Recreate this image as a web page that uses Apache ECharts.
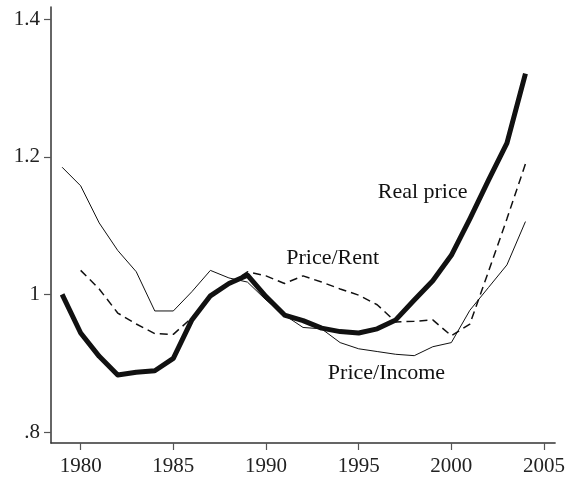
<!DOCTYPE html>
<html>
<head>
<meta charset="utf-8">
<title>House prices</title>
<script src="https://cdn.jsdelivr.net/npm/echarts@6/dist/echarts.min.js"></script>
<style>
  html, body { margin: 0; padding: 0; background: #fff; }
  #chart { width: 568px; height: 479px; }
</style>
</head>
<body>
<div id="chart"></div>
<script>
var years = [1979, 1980, 1981, 1982, 1983, 1984, 1985, 1986, 1987, 1988, 1989, 1990, 1991,
             1992, 1993, 1994, 1995, 1996, 1997, 1998, 1999, 2000, 2001, 2002, 2003, 2004];
var realPrice = [1.000, 0.944, 0.910, 0.883, 0.887, 0.889, 0.907, 0.963, 0.998, 1.016, 1.028, 0.997, 0.970,
                 0.962, 0.951, 0.946, 0.944, 0.950, 0.963, 0.992, 1.020, 1.057, 1.110, 1.166, 1.220, 1.321];
var priceRent = [null, 1.035, 1.008, 0.973, 0.957, 0.943, 0.942, 0.966, 0.997, 1.015, 1.033, 1.027, 1.016,
                 1.027, 1.018, 1.008, 0.999, 0.985, 0.960, 0.961, 0.963, 0.940, 0.957, 1.033, 1.110, 1.190];
var priceIncome = [1.185, 1.158, 1.104, 1.064, 1.033, 0.976, 0.976, 1.004, 1.035, 1.024, 1.018, 0.992, 0.970,
                   0.952, 0.950, 0.930, 0.921, 0.917, 0.913, 0.911, 0.924, 0.930, 0.977, 1.010, 1.043, 1.106];
var xTicks = [1980, 1985, 1990, 1995, 2000, 2005];
var yTicks = [0.8, 1, 1.2, 1.4];

var font = 'Liberation Serif';

function pairs(vals) {
  var out = [];
  for (var i = 0; i < years.length; i++) {
    if (vals[i] != null) out.push([years[i], vals[i]]);
  }
  return out;
}

var myChart = echarts.init(document.getElementById('chart'));
var option = {
  backgroundColor: '#fff',
  animation: false,
  grid: { left: 51, right: 10, top: 7, bottom: 36 },
  xAxis: {
    type: 'value',
    min: 1978.4,
    max: 2005.6,
    splitLine: { show: false },
    axisLine: { lineStyle: { color: '#333', width: 1.5 } },
    axisTick: { customValues: xTicks, length: 7, lineStyle: { color: '#555', width: 1.2 } },
    axisLabel: {
      customValues: xTicks,
      margin: 13,
      color: '#222',
      fontFamily: font,
      fontSize: 21,
      formatter: function (v) { return String(v); }
    }
  },
  yAxis: {
    type: 'value',
    min: 0.784,
    max: 1.418,
    splitLine: { show: false },
    axisLine: { show: true, lineStyle: { color: '#333', width: 1.5 } },
    axisTick: { show: true, customValues: yTicks, length: 7, lineStyle: { color: '#555', width: 1.2 } },
    axisLabel: {
      customValues: yTicks,
      margin: 11,
      color: '#222',
      fontFamily: font,
      fontSize: 21,
      formatter: function (v) {
        if (Math.abs(v - 0.8) < 1e-6) return '.8';
        if (Math.abs(v - 1) < 1e-6) return '1';
        return v.toFixed(1);
      }
    }
  },
  series: [
    {
      name: 'Price/Income',
      type: 'line',
      data: pairs(priceIncome),
      symbol: 'none',
      lineStyle: { color: '#111', width: 1 }
    },
    {
      name: 'Price/Rent',
      type: 'line',
      data: pairs(priceRent),
      symbol: 'none',
      lineStyle: { color: '#111', width: 1.5, type: [8, 5] }
    },
    {
      name: 'Real price',
      type: 'line',
      data: pairs(realPrice),
      symbol: 'none',
      lineStyle: { color: '#111', width: 5, join: 'round' }
    }
  ]
};
myChart.setOption(option);

// series names placed next to their lines
var labels = [
  { text: 'Real price', at: [1998.45, 1.148] },
  { text: 'Price/Rent', at: [1993.6, 1.053] },
  { text: 'Price/Income', at: [1996.5, 0.886] }
];
myChart.setOption({
  graphic: labels.map(function (l) {
    var p = myChart.convertToPixel({ gridIndex: 0 }, l.at);
    return {
      type: 'text',
      x: p[0],
      y: p[1],
      style: {
        text: l.text,
        fill: '#111',
        font: '22px "Liberation Serif"',
        textAlign: 'center',
        textVerticalAlign: 'middle'
      }
    };
  })
});
</script>
</body>
</html>
